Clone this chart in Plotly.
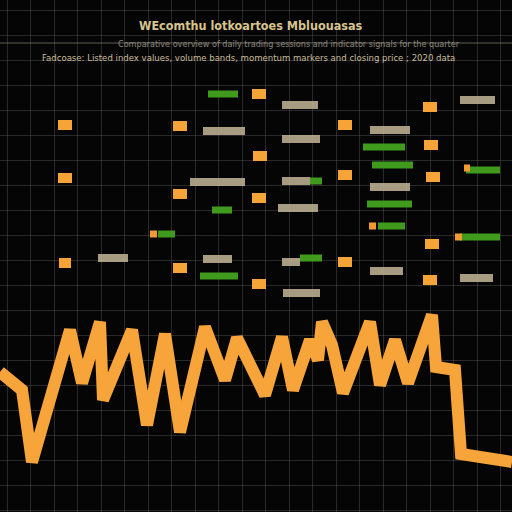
import plotly.graph_objects as go

H = 512
# Orange price line (x, value)
line_x = [0, 22, 32, 70, 82, 100, 103, 132, 147, 165, 180, 205, 225, 237, 265, 282, 293,
          310, 318, 322, 332, 343, 370, 380, 395, 408, 432, 436, 455, 461, 512]
line_v = [140, 122, 50, 182, 129, 190, 112, 182, 87, 178, 80, 185, 132, 174, 117, 175, 122,
          172, 152, 190, 167, 119, 190, 127, 172, 129, 197, 145, 142, 58, 50]

# Orange square markers: x start, x end, value
orange_x0 = [58, 58, 59, 173, 173, 173, 252, 253, 252, 252, 338, 338, 338, 423, 424, 426, 425, 423]
orange_x1 = [72, 72, 71, 187, 187, 187, 266, 267, 266, 266, 352, 352, 352, 437, 438, 440, 439, 437]
orange_v  = [387, 334, 249, 386, 318, 244, 418, 356, 314, 228, 387, 337, 250, 405, 367, 335, 268, 232]
small_x0 = [150, 369, 455, 464]
small_x1 = [157, 376, 462, 470]
small_v  = [278, 286, 275, 344]

# Green indicator bars
green_x0 = [208, 363, 372, 466, 367, 378, 460, 310, 212, 158, 300, 200]
green_x1 = [238, 405, 413, 500, 412, 405, 500, 322, 232, 175, 322, 238]
green_v  = [418, 365, 347, 342, 308, 286, 275, 331, 302, 278, 254, 236]

# Beige label blocks
beige_x0 = [460, 370, 370, 370, 282, 203, 282, 190, 282, 278, 203, 282, 98, 283, 460]
beige_x1 = [495, 410, 410, 403, 318, 245, 320, 245, 310, 318, 232, 300, 128, 320, 493]
beige_v  = [412, 382, 325, 241, 407, 381, 373, 330, 331, 304, 253, 250, 254, 219, 234]

title = "WEcomthu lotkoartoes Mbluouasas"
sub1 = "Comparative overview of daily trading sessions and indicator signals for the quarter"
sub2 = "Fadcoase: Listed index values, volume bands, momentum markers and closing price ; 2020 data"

NARROW = "Liberation Sans Narrow, DejaVu Sans Condensed, sans-serif"

fig = go.Figure()

def hbars(x0, x1, v, color, th, opacity=1.0):
    fig.add_trace(go.Bar(orientation="h", base=x0, x=[b - a for a, b in zip(x0, x1)], y=v,
                         width=th, marker=dict(color=color, line=dict(width=0)),
                         opacity=opacity, showlegend=False, hoverinfo="skip"))

hbars(beige_x0, beige_x1, beige_v, "#c4b697", 8, 0.85)
hbars(green_x0, green_x1, green_v, "#3f9a1e", 7)
hbars(orange_x0, orange_x1, orange_v, "#f6a437", 10)
hbars(small_x0, small_x1, small_v, "#f29b33", 7)

fig.add_trace(go.Scatter(x=line_x, y=line_v, mode="lines",
                         line=dict(color="#f7a43a", width=12),
                         showlegend=False, hoverinfo="skip"))

fig.add_annotation(text="<b>" + title + "</b>", x=0.49, y=1 - 25 / H, xref="paper", yref="paper",
                   xanchor="center", yanchor="middle", showarrow=False,
                   font=dict(family=NARROW, size=12.5, color="#d8c48e"))
fig.add_annotation(text=sub1, x=0.565, y=1 - 44 / H, xref="paper", yref="paper",
                   xanchor="center", yanchor="middle", showarrow=False,
                   font=dict(family=NARROW, size=9, color="#8c877a"))
fig.add_annotation(text=sub2, x=0.485, y=1 - 57 / H, xref="paper", yref="paper",
                   xanchor="center", yanchor="middle", showarrow=False,
                   font=dict(family=NARROW, size=9.5, color="#c9bd9c"))
fig.add_shape(type="line", xref="paper", yref="paper", x0=0, x1=1, y0=1 - 43 / H, y1=1 - 43 / H,
              line=dict(color="rgba(160,155,140,0.6)", width=1))

fig.update_layout(
    width=512, height=512, margin=dict(l=0, r=0, t=0, b=0),
    paper_bgcolor="#050505", plot_bgcolor="#050505", barmode="overlay",
    xaxis=dict(range=[0, 512], showticklabels=False, zeroline=False, tick0=7, dtick=23.5,
               gridcolor="rgba(110,110,110,0.35)", gridwidth=1, fixedrange=True),
    yaxis=dict(range=[0, 512], showticklabels=False, zeroline=False, tick0=2, dtick=25,
               gridcolor="rgba(110,110,110,0.35)", gridwidth=1, fixedrange=True),
)

fig.write_html("out.html")
